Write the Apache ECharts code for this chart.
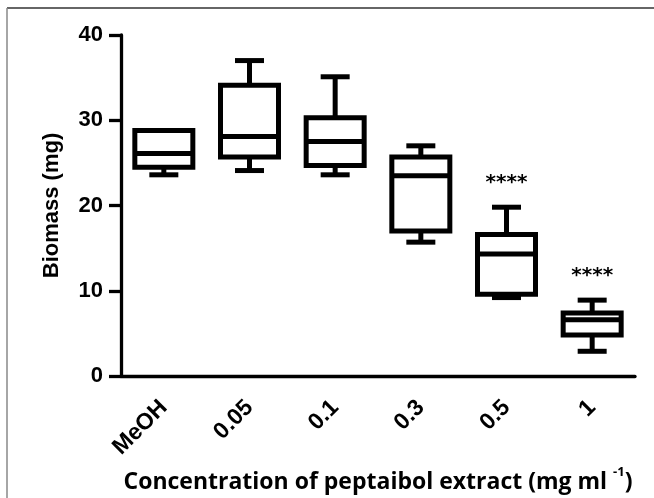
<!DOCTYPE html>
<html>
<head>
<meta charset="utf-8">
<script src="https://cdn.jsdelivr.net/npm/echarts@6/dist/echarts.min.js"></script>
<style>
html,body{margin:0;padding:0;background:#fff;}
#chart{width:654px;height:498px;}
</style>
</head>
<body>
<div id="chart"></div>
<script>
const categories = ['MeOH', '0.05', '0.1', '0.3', '0.5', '1'];
const minValues    = [23.6, 24.1, 23.6, 15.7,  9.2, 2.9];
const q1Values     = [24.5, 25.7, 24.7, 17.0,  9.6, 4.8];
const medianValues = [26.1, 28.1, 27.5, 23.5, 14.3, 6.6];
const q3Values     = [28.8, 34.1, 30.3, 25.7, 16.6, 7.4];
const maxValues    = [28.8, 37.0, 35.1, 27.0, 19.8, 8.9];
const significance = ['', '', '', '', '****', '****'];
const yTicks = { min: 0, max: 40, interval: 10 };

const data = categories.map((c, i) => [i, minValues[i], q1Values[i], medianValues[i], q3Values[i], maxValues[i]]);

const chart = echarts.init(document.getElementById('chart'));
const axisFont = 'Liberation Sans, Arial, sans-serif';
const titleFont = 'Open Sans, sans-serif';

chart.setOption({
  animation: false,
  backgroundColor: '#fff',
  grid: { left: 121, right: 19, top: 35, bottom: 122, containLabel: false, outerBoundsMode: 'none' },
  graphic: [
    { type: 'line', shape: { x1: 7, y1: 8, x2: 654, y2: 8 }, style: { stroke: '#333', lineWidth: 1.5 } },
    { type: 'line', shape: { x1: 7, y1: 8, x2: 7, y2: 498 }, style: { stroke: '#888', lineWidth: 1.5 } }
  ],
  xAxis: {
    type: 'category',
    data: categories,
    boundaryGap: true,
    axisLine: { lineStyle: { color: '#000', width: 3.3 } },
    axisTick: { alignWithLabel: true, length: 10, lineStyle: { color: '#000', width: 3.3 } },
    axisLabel: { rotate: 45, color: '#000', fontWeight: 'bold', fontSize: 23, fontFamily: axisFont, margin: 28 },
    name: '{a|Concentration of peptaibol extract (mg ml }{s|-1}{a|)}',
    nameLocation: 'middle',
    nameGap: 70,
    nameTextStyle: {
      rich: {
        a: { fontSize: 23, fontWeight: 'bold', color: '#000', fontFamily: titleFont, lineHeight: 28, verticalAlign: 'bottom' },
        s: { fontSize: 13, fontWeight: 'bold', color: '#000', fontFamily: titleFont, lineHeight: 14, verticalAlign: 'top', padding: [0, 0, 37, 0] }
      }
    }
  },
  yAxis: {
    type: 'value',
    min: yTicks.min, max: yTicks.max, interval: yTicks.interval,
    splitLine: { show: false },
    axisLine: { show: true, lineStyle: { color: '#000', width: 3.3 } },
    axisTick: { show: true, length: 12, lineStyle: { color: '#000', width: 3.3 } },
    axisLabel: { color: '#000', fontWeight: 'bold', fontSize: 22, fontFamily: axisFont, margin: 18 },
    name: 'Biomass (mg)',
    nameLocation: 'middle',
    nameGap: 58,
    nameTextStyle: { color: '#000', fontWeight: 'bold', fontSize: 22, fontFamily: axisFont }
  },
  series: [{
    type: 'custom',
    data: data,
    encode: { x: 0, y: [1, 2, 3, 4, 5] },
    renderItem: function (params, api) {
      const i = api.value(0);
      const lo = api.value(1), q1 = api.value(2), med = api.value(3), q3 = api.value(4), hi = api.value(5);
      const x = api.coord([i, med])[0];
      const Y = v => api.coord([i, v])[1];
      const bw = 58, cw = 29, lw = 5;
      const st = { stroke: '#000', lineWidth: lw, fill: null };
      const children = [
        { type: 'line', shape: { x1: x, y1: Y(q3), x2: x, y2: Y(hi) }, style: st },
        { type: 'line', shape: { x1: x, y1: Y(q1), x2: x, y2: Y(lo) }, style: st },
        { type: 'line', shape: { x1: x - cw / 2, y1: Y(hi), x2: x + cw / 2, y2: Y(hi) }, style: st },
        { type: 'line', shape: { x1: x - cw / 2, y1: Y(lo), x2: x + cw / 2, y2: Y(lo) }, style: st },
        { type: 'rect', shape: { x: x - bw / 2, y: Y(q3), width: bw, height: Y(q1) - Y(q3) }, style: { stroke: '#000', lineWidth: lw, fill: 'none' } },
        { type: 'line', shape: { x1: x - bw / 2, y1: Y(med), x2: x + bw / 2, y2: Y(med) }, style: st }
      ];
      const sig = significance[i];
      if (sig) {
        children.push({
          type: 'text',
          style: { text: sig, x: x, y: Y(hi) - 24, align: 'center', verticalAlign: 'middle',
                   font: 'bold 20px DejaVu Sans, sans-serif', fill: '#000' }
        });
      }
      return { type: 'group', children: children };
    }
  }]
});
</script>
</body>
</html>
